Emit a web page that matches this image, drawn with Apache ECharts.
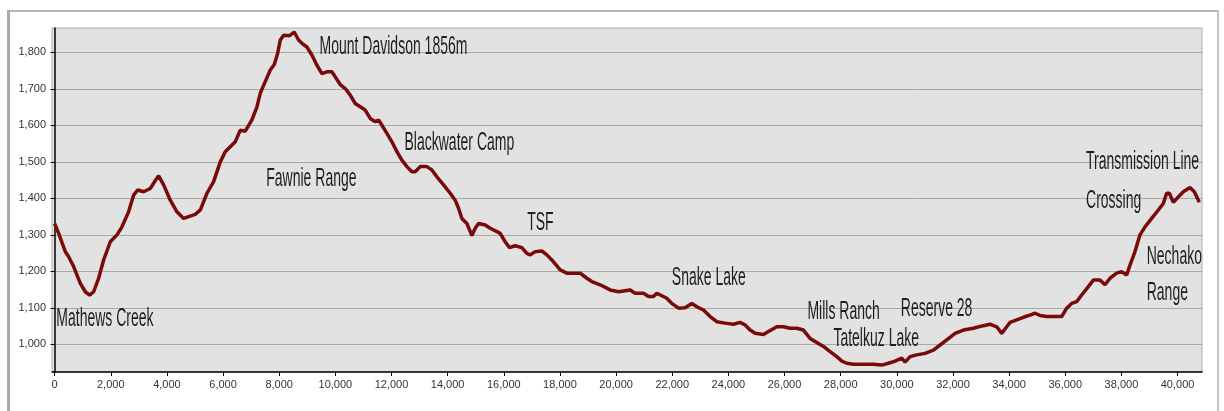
<!DOCTYPE html>
<html>
<head>
<meta charset="utf-8">
<title>Elevation profile</title>
<script src="https://cdn.jsdelivr.net/npm/echarts@6.0.0/dist/echarts.min.js"></script>
<style>
    html, body {
        margin: 0;
        padding: 0;
        background: #fff;
    }
    #profile {
        width: 1224px;
        height: 411px;
    }
</style>
</head>
<body>
<div id="profile"></div>
<script>
// distance along route (m) and elevation (m)
const distance = [
    0, 144, 381, 500, 678, 915, 1093, 1248, 1390, 1568, 1746, 1984, 2221, 2399, 2636, 2815, 2957, 3171, 3408, 3562,
    3705, 3883, 4120, 4358, 4595, 4773, 5010, 5189, 5426, 5664, 5901, 6079, 6435, 6613, 6791, 7028, 7207, 7325, 7503, 7681,
    7824, 7943, 8038, 8157, 8370, 8535, 8690, 8808, 8986, 9165, 9343, 9521, 9699, 9877, 9996, 10174, 10352, 10530, 10708, 10886,
    11064, 11242, 11420, 11539, 11657, 11836, 12014, 12192, 12370, 12548, 12726, 12845, 13023, 13260, 13438, 13616, 13854, 14091, 14269, 14388,
    14507, 14685, 14863, 14982, 15100, 15337, 15515, 15753, 15871, 16049, 16203, 16405, 16643, 16821, 16940, 17118, 17355, 17533, 17771, 18008,
    18246, 18721, 18958, 19136, 19433, 19789, 20086, 20501, 20679, 20976, 21154, 21332, 21451, 21629, 21807, 21985, 22222, 22460, 22697, 22875,
    23112, 23350, 23587, 23884, 24181, 24418, 24596, 24774, 24952, 25249, 25427, 25723, 25961, 26198, 26436, 26673, 26910, 27148, 27385, 27623,
    27860, 28038, 28216, 28454, 28810, 29166, 29463, 29700, 29938, 30175, 30294, 30472, 30709, 31006, 31303, 31540, 31778, 32075, 32371, 32727,
    33083, 33320, 33558, 33736, 33914, 34032, 34269, 34507, 34744, 34922, 35100, 35338, 35575, 35872, 36050, 36228, 36406, 36584, 36821, 36999,
    37237, 37415, 37593, 37830, 38009, 38187, 38305, 38483, 38661, 38840, 39077, 39314, 39492, 39611, 39706, 39848, 40026, 40204, 40441, 40596,
    40774
];
const elevation = [
    1331, 1304, 1254, 1240, 1213, 1167, 1144, 1135, 1144, 1181, 1231, 1281, 1300, 1322, 1363, 1409, 1423, 1418, 1427, 1446,
    1462, 1437, 1395, 1363, 1345, 1350, 1356, 1368, 1414, 1446, 1500, 1528, 1555, 1587, 1584, 1615, 1651, 1688, 1720, 1752,
    1767, 1797, 1834, 1847, 1846, 1856, 1834, 1825, 1815, 1793, 1765, 1742, 1747, 1747, 1733, 1712, 1701, 1683, 1660, 1651,
    1642, 1619, 1610, 1615, 1601, 1578, 1555, 1528, 1505, 1487, 1473, 1473, 1487, 1487, 1478, 1459, 1437, 1414, 1395, 1373,
    1345, 1331, 1298, 1318, 1331, 1327, 1318, 1309, 1304, 1281, 1265, 1270, 1265, 1249, 1245, 1254, 1256, 1245, 1226, 1204,
    1195, 1195, 1181, 1172, 1163, 1149, 1144, 1149, 1140, 1140, 1131, 1131, 1140, 1133, 1126, 1112, 1099, 1100, 1112, 1103,
    1094, 1076, 1062, 1058, 1055, 1060, 1053, 1039, 1030, 1027, 1035, 1048, 1048, 1044, 1044, 1039, 1016, 1005, 994, 980,
    966, 954, 948, 945, 945, 945, 943, 948, 954, 962, 951, 966, 971, 975, 984, 998, 1012, 1030, 1039, 1044,
    1051, 1055, 1048, 1030, 1048, 1060, 1067, 1074, 1080, 1085, 1079, 1076, 1076, 1076, 1099, 1112, 1117, 1135, 1158, 1176,
    1176, 1163, 1181, 1195, 1199, 1190, 1217, 1254, 1300, 1322, 1345, 1368, 1386, 1414, 1414, 1389, 1404, 1418, 1430, 1418,
    1389
];

// place names written on the profile (left edge of text, middle of text)
const placeNames = ["Mathews Creek", "Mount Davidson 1856m", "Fawnie Range", "Blackwater Camp", "TSF", "Snake Lake",
    "Mills Ranch", "Tatelkuz Lake", "Reserve 28", "Transmission Line", "Crossing", "Nechako", "Range"];
const placeX = [61, 9437, 7539, 12464, 16833, 21986, 26814, 27740, 30141, 36739, 36739, 38901, 38901];
const placeY = [1069, 1815, 1454, 1551, 1331, 1182, 1089, 1014, 1097, 1499, 1393, 1238, 1141];

const xTicks = [0, 2000, 4000, 6000, 8000, 10000, 12000, 14000, 16000, 18000, 20000,
    22000, 24000, 26000, 28000, 30000, 32000, 34000, 36000, 38000, 40000];
const yTicks = [1000, 1100, 1200, 1300, 1400, 1500, 1600, 1700, 1800];

var tickFont = "'Liberation Sans Narrow', 'Arial Narrow', 'Liberation Sans', sans-serif";

var chart = echarts.init(document.getElementById("profile"), null, { renderer: "canvas" });

let option = {
    backgroundColor: "#fff",
    animation: false,
    grid: {
        left: 52,
        right: 22,
        top: 28,
        bottom: 39,
        show: true,
        backgroundColor: "#e2e2e2",
        borderColor: "#b0b0b0",
        borderWidth: 1,
    },
    xAxis: {
        type: "value",
        min: -93,
        max: 40870,
        splitLine: { show: false },
        axisLine: { lineStyle: { color: "#000", width: 1.5 } },
        axisTick: {
            customValues: xTicks,
            length: 4,
            lineStyle: { color: "#000" },
        },
        axisLabel: {
            customValues: xTicks,
            margin: 7,
            fontSize: 11,
            fontFamily: tickFont,
            color: "#333",
            formatter: function (v) {
                return v.toLocaleString("en-US");
            },
        },
    },
    yAxis: {
        type: "value",
        min: 924,
        max: 1867,
        splitNumber: 9,
        splitLine: { lineStyle: { color: "#a8a8a8", width: 1 } },
        axisLine: { show: true, lineStyle: { color: "#000", width: 1.5 } },
        axisTick: {
            show: true,
            customValues: yTicks,
            length: 4,
            lineStyle: { color: "#000" },
        },
        axisLabel: {
            customValues: yTicks,
            margin: 6,
            fontSize: 11,
            fontFamily: tickFont,
            color: "#333",
            formatter: function (v) {
                return v.toLocaleString("en-US");
            },
        },
    },
    graphic: [
        // grey frame round the picture
        { type: "line", shape: { x1: 8, y1: 11, x2: 1218, y2: 11 }, style: { stroke: "#b4b4b4", lineWidth: 2 } },
        { type: "line", shape: { x1: 8.5, y1: 10, x2: 8.5, y2: 411 }, style: { stroke: "#a8a8a8", lineWidth: 3 } },
        { type: "line", shape: { x1: 1218, y1: 10, x2: 1218, y2: 411 }, style: { stroke: "#c4c4c4", lineWidth: 2 } },
    ],
    series: [
        {
            name: "Elevation",
            type: "line",
            data: distance.map((d, i) => [d, elevation[i]]),
            showSymbol: false,
            smooth: false,
            lineStyle: { color: "#7a0a0a", width: 3.5 },
            z: 3,
        },
        {
            name: "Places",
            type: "custom",
            data: placeX.map((x, i) => [x, placeY[i]]),
            clip: false,
            z: 4,
            renderItem: function (params, api) {
                let pt = api.coord([api.value(0), api.value(1)]);
                return {
                    type: "text",
                    x: pt[0],
                    y: pt[1],
                    scaleX: 0.56,
                    style: {
                        text: placeNames[params.dataIndex],
                        fontSize: 25,
                        fontFamily: "'Liberation Sans', Arial, sans-serif",
                        fill: "#1e1e1e",
                        align: "left",
                        verticalAlign: "middle",
                    },
                };
            },
        },
    ],
};

chart.setOption(option);
</script>
</body>
</html>
